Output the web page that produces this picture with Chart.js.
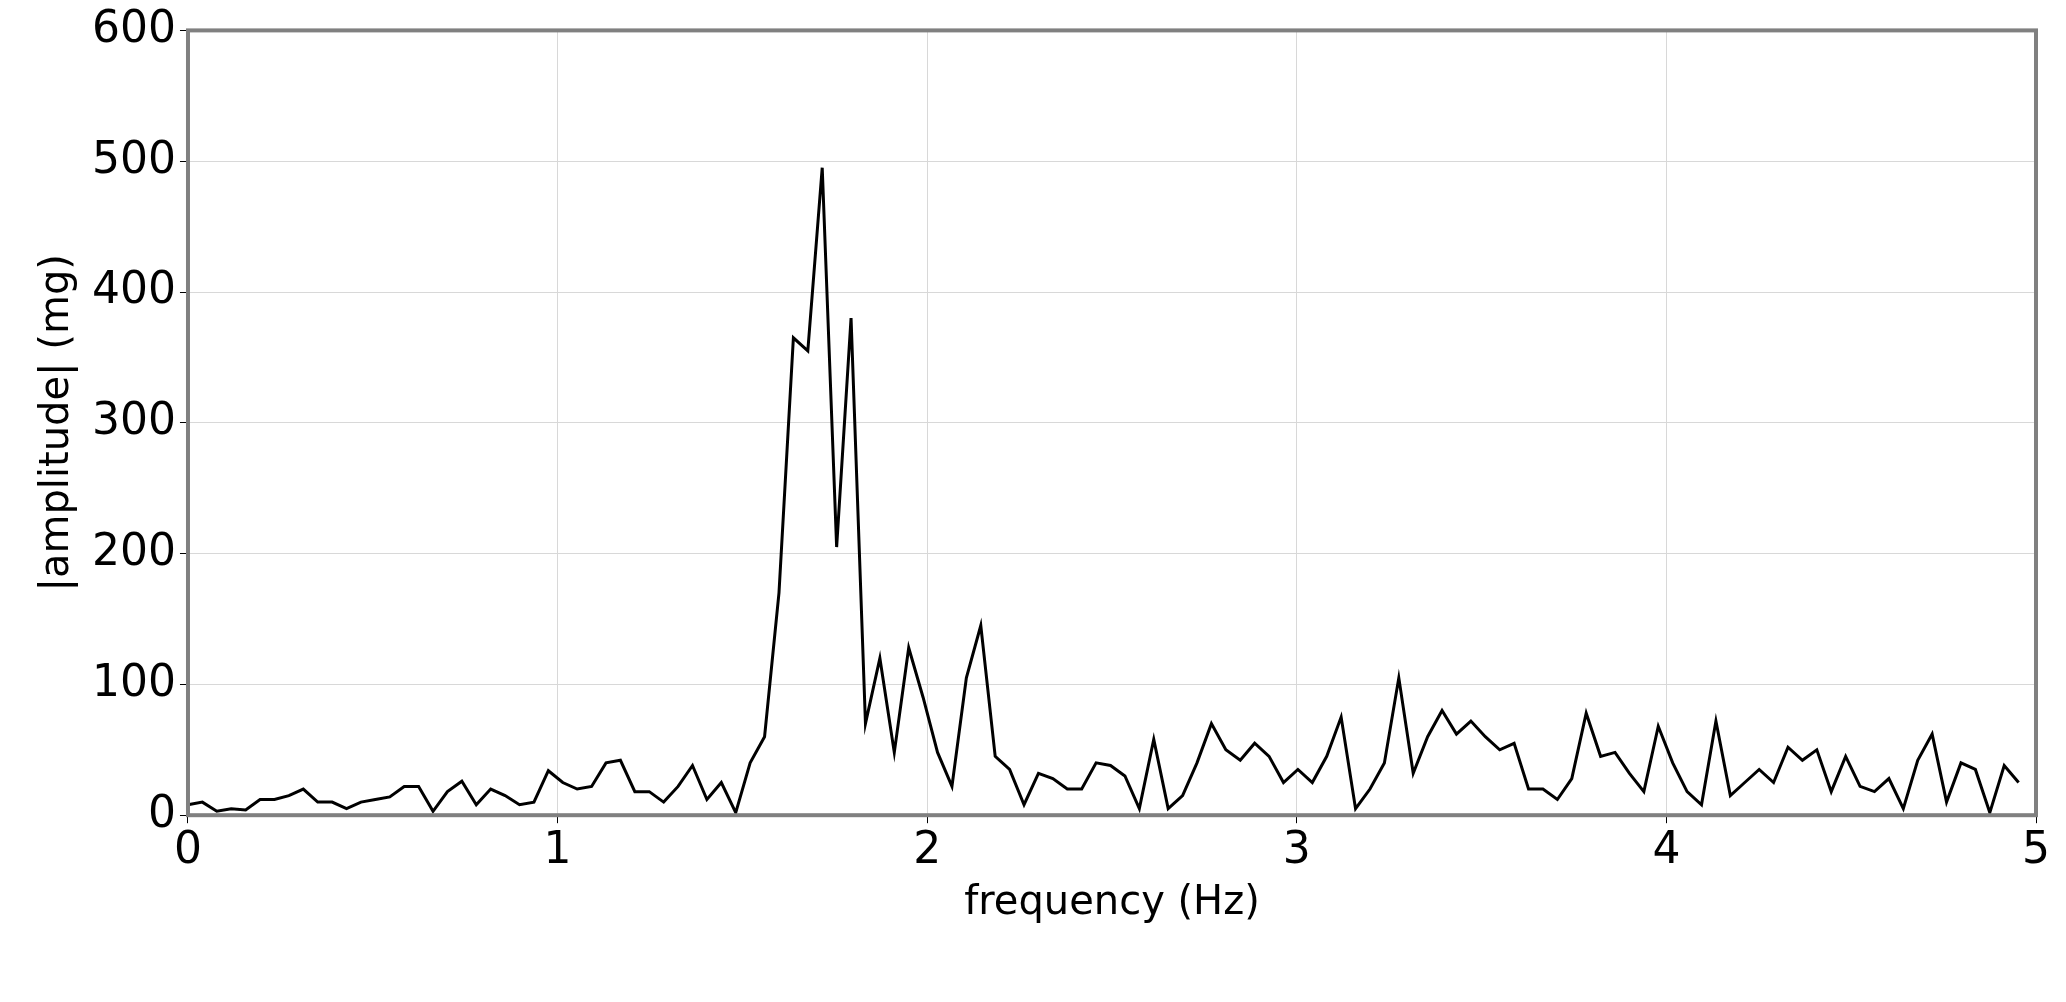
<!DOCTYPE html>
<html>
<head>
<meta charset="utf-8">
<script src="https://cdn.jsdelivr.net/npm/chart.js@4"></script>
<style>
  html, body { margin: 0; padding: 0; background: #fff; }
  #wrap { width: 2066px; height: 1002px; }
</style>
</head>
<body>
<div id="wrap"><canvas id="chart"></canvas></div>
<script>
// frequency step between FFT bins (Hz)
const freqStep = 0.039;

const amplitude = [
    8, 10, 3, 5, 4, 12, 12, 15, 20, 10, 10, 5, 10, 12, 14, 22, 22, 3, 18, 26,
    8, 20, 15, 8, 10, 34, 25, 20, 22, 40, 42, 18, 18, 10, 22, 38, 12, 25, 2,
    40, 60, 170, 365, 355, 495, 205, 380, 70, 120, 48, 128, 90, 48, 22, 105, 145, 45, 35, 8,
    32, 28, 20, 20, 40, 38, 30, 5, 58, 5, 15, 40, 70, 50, 42, 55, 45, 25, 35, 25,
    45, 75, 5, 20, 40, 105, 32, 60, 80, 62, 72, 60, 50, 55, 20, 20, 12, 28, 78, 45,
    48, 32, 18, 68, 40, 18, 8, 72, 15, 25, 35, 25, 52, 42, 50, 18, 45, 22, 18, 28,
    5, 42, 62, 10, 40, 35, 2, 38, 25
];

const points = amplitude.map((y, i) => ({x: i * freqStep, y: y}));

const frame = {
    id: 'frame',
    afterDraw(chart) {
        const {ctx, chartArea: a} = chart;
        ctx.save();
        ctx.strokeStyle = '#808080';
        ctx.lineWidth = 4;
        ctx.strokeRect(a.left, a.top, a.right - a.left, a.bottom - a.top);
        ctx.restore();
    }
};

const tickFont = {family: 'DejaVu Sans', size: 44};
const titleFont = {family: 'DejaVu Sans', size: 40};

new Chart(document.getElementById('chart'), {
    type: 'line',
    data: {
        datasets: [{
            data: points,
            borderColor: '#000',
            borderWidth: 3,
            pointRadius: 0,
            tension: 0
        }]
    },
    options: {
        responsive: true,
        maintainAspectRatio: false,
        animation: false,
        layout: {padding: {top: 12, right: 30, left: 30, bottom: 70}},
        plugins: {legend: {display: false}, tooltip: {enabled: false}},
        scales: {
            x: {
                type: 'linear',
                min: 0,
                max: 5,
                ticks: {stepSize: 1, color: '#000', font: tickFont, padding: 2},
                grid: {color: '#d8d8d8', tickColor: '#000', tickLength: 8},
                border: {display: false},
                title: {display: true, text: 'frequency (Hz)', color: '#000', font: titleFont, padding: {top: 0}}
            },
            y: {
                min: 0,
                max: 600,
                ticks: {stepSize: 100, color: '#000', font: tickFont, padding: 4},
                grid: {color: '#d8d8d8', tickColor: '#000', tickLength: 8},
                border: {display: false},
                title: {display: true, text: '|amplitude| (mg)', color: '#000', font: titleFont, padding: {bottom: 6}}
            }
        }
    },
    plugins: [frame]
});
</script>
</body>
</html>
